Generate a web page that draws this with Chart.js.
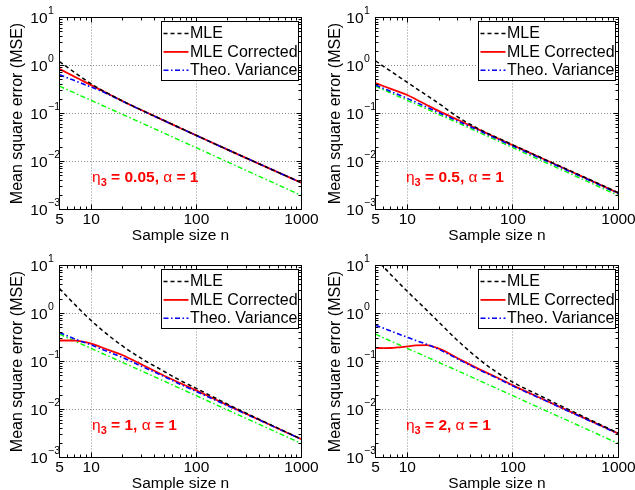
<!DOCTYPE html>
<html><head><meta charset="utf-8">
<script src="https://cdn.jsdelivr.net/npm/chart.js@4/dist/chart.umd.min.js"></script>
<style>
html,body{margin:0;padding:0;background:#fff;overflow:hidden;}
#wrap{position:relative;width:635px;height:490px;overflow:hidden;background:#fff;}
canvas{position:absolute;}
</style></head><body>
<div id="wrap">
<canvas id="c1"></canvas><canvas id="c2"></canvas><canvas id="c3"></canvas><canvas id="c4"></canvas>
</div>
<script>
// ---------- data ----------
const sampleSizes = [5, 6, 7, 8, 10, 12, 15, 20, 30, 50, 70, 100, 200, 500, 1000];
const xTickValues = [5, 10, 100, 1000];
const yTickValues = [0.001, 0.01, 0.1, 1, 10];
const seriesNames = ['MLE', 'MLE Corrected', 'Theo. Variance'];
const xAxisTitle = 'Sample size n';
const yAxisTitle = 'Mean square error (MSE)';
const etaValues = ['0.05', '0.5', '1', '2'];
const alphaValue = '1';

// green dash-dot reference curve (not in legend)
const greenRef = [0.37, 0.31, 0.266, 0.233, 0.188, 0.157, 0.126, 0.095, 0.064, 0.0385, 0.0276, 0.0194, 0.0097, 0.0039, 0.00195];

// panel 1: eta3 = 0.05
const mle1  = [1.21, 0.904, 0.71, 0.578, 0.416, 0.327, 0.25, 0.181, 0.118, 0.0705, 0.0502, 0.035, 0.0175, 0.0071, 0.0036];
const corr1 = [0.85, 0.69, 0.58, 0.5, 0.39, 0.318, 0.248, 0.18, 0.118, 0.07, 0.05, 0.035, 0.0175, 0.0071, 0.0036];
const theo1 = [0.64, 0.55, 0.48, 0.43, 0.355, 0.303, 0.243, 0.178, 0.117, 0.0697, 0.0498, 0.0349, 0.0175, 0.0071, 0.0036];
// panel 2: eta3 = 0.5
const mle2  = [1.25, 0.95, 0.76, 0.62, 0.445, 0.34, 0.245, 0.16, 0.085, 0.045, 0.0318, 0.0222, 0.0111, 0.0045, 0.00222];
const corr2 = [0.43, 0.37, 0.326, 0.292, 0.243, 0.198, 0.154, 0.112, 0.074, 0.044, 0.031, 0.0218, 0.011, 0.0044, 0.0022];
const theo2 = [0.39, 0.33, 0.287, 0.254, 0.207, 0.1725, 0.138, 0.1035, 0.0695, 0.042, 0.0299, 0.021, 0.0106, 0.0043, 0.00215];
// panel 3: eta3 = 1
const mle3  = [3.3, 2.17, 1.535, 1.143, 0.714, 0.501, 0.335, 0.208, 0.116, 0.0612, 0.0405, 0.0275, 0.0128, 0.0049, 0.0024];
const corr3 = [0.274, 0.274, 0.272, 0.263, 0.237, 0.205, 0.17, 0.135, 0.087, 0.05, 0.0356, 0.025, 0.0122, 0.0048, 0.0024];
const theo3 = [0.40, 0.34, 0.295, 0.264, 0.222, 0.188, 0.155, 0.12, 0.08, 0.048, 0.0337, 0.0237, 0.0119, 0.0048, 0.00238];
// panel 4: eta3 = 2
const mle4  = [14.0, 9.2, 6.44, 4.74, 2.9, 1.96, 1.22, 0.652, 0.273, 0.103, 0.06, 0.037, 0.0174, 0.0066, 0.0032];
const corr4 = [0.192, 0.19, 0.191, 0.196, 0.207, 0.216, 0.219, 0.185, 0.117, 0.066, 0.047, 0.0318, 0.0158, 0.0063, 0.00315];
const theo4 = [0.57, 0.49, 0.43, 0.385, 0.32, 0.275, 0.232, 0.178, 0.113, 0.064, 0.0455, 0.031, 0.0155, 0.0062, 0.0031];

// ---------- layout / style ----------
const FONT = "'Liberation Sans', Arial, Helvetica, sans-serif";
const H = 250;
const panels = [
  {id:'c1', left:0,   top:0,   w:318, L:59.5, R:301.5, T:17.5, B:209.5, xTitlePad:4.9, mle:mle1, corr:corr1, theo:theo1, eta:etaValues[0], anchor:[10.2, 0.00374]},
  {id:'c2', left:318, top:0,   w:317, L:57.5, R:300.5, T:17.5, B:209.5, xTitlePad:4.9, mle:mle2, corr:corr2, theo:theo2, eta:etaValues[1], anchor:[9.72, 0.00374]},
  {id:'c3', left:0,   top:245, w:318, L:59.5, R:301.5, T:20.5, B:212.5, xTitlePad:2.2, mle:mle3, corr:corr3, theo:theo3, eta:etaValues[2], anchor:[10.2, 0.00374]},
  {id:'c4', left:318, top:245, w:317, L:57.5, R:300.5, T:20.5, B:212.5, xTitlePad:2.2, mle:mle4, corr:corr4, theo:theo4, eta:etaValues[3], anchor:[9.72, 0.00374]}
];

const matlabAxes = {
  id: 'matlabAxes',
  afterDatasetsDraw(chart, args, opts) {
    const ctx = chart.ctx, a = chart.chartArea;
    const xs = chart.scales.x, ys = chart.scales.y;
    ctx.save();
    ctx.setLineDash([]);
    ctx.strokeStyle = '#000';
    ctx.lineWidth = 1;
    ctx.strokeRect(a.left, a.top, a.right - a.left, a.bottom - a.top);
    const majorX = xs.ticks.map(t => t.value);
    const majorY = ys.ticks.map(t => t.value);
    const minors = (min, max, majors) => {
      const out = [];
      for (let e = Math.floor(Math.log10(min)); e <= Math.ceil(Math.log10(max)); e++) {
        for (let m = 1; m < 10; m++) {
          const v = m * Math.pow(10, e);
          if (v >= min * 0.999 && v <= max * 1.001 && !majors.some(M => Math.abs(M - v) / v < 1e-6)) out.push(v);
        }
      }
      return out;
    };
    ctx.beginPath();
    const tickX = (v, len) => { const p = Math.round(xs.getPixelForValue(v) - 0.5) + 0.5; ctx.moveTo(p, a.bottom); ctx.lineTo(p, a.bottom - len); ctx.moveTo(p, a.top); ctx.lineTo(p, a.top + len); };
    const tickY = (v, len) => { const p = Math.round(ys.getPixelForValue(v) - 0.5) + 0.5; ctx.moveTo(a.left, p); ctx.lineTo(a.left + len, p); ctx.moveTo(a.right, p); ctx.lineTo(a.right - len, p); };
    majorX.forEach(v => tickX(v, 5));
    minors(xs.min, xs.max, majorX).forEach(v => tickX(v, 3));
    majorY.forEach(v => tickY(v, 5));
    minors(ys.min, ys.max, majorY).forEach(v => tickY(v, 3));
    ctx.stroke();

    // y tick labels with superscript exponent
    ctx.fillStyle = '#000';
    ctx.textBaseline = 'middle';
    majorY.forEach(v => {
      const p = ys.getPixelForValue(v);
      const e = Math.round(Math.log10(v));
      const right = a.left - 12;
      ctx.font = '15.5px ' + FONT; ctx.textAlign = 'right';
      ctx.fillText('10', right, p + 1);
      ctx.font = '10.5px ' + FONT; ctx.textAlign = 'left';
      ctx.fillText(e < 0 ? '\u2212' + (-e) : String(e), right + 0.5, p - 6.5);
    });

    // legend box
    const items = chart.data.datasets.filter(d => d.showInLegend);
    const bw = 137, bh = 59;
    const bx = Math.round(a.right - 4 - bw) + 0.5, by = Math.round(a.top + 3.5) + 0.5;
    ctx.fillStyle = '#fff'; ctx.fillRect(bx, by, bw, bh);
    ctx.strokeStyle = '#000'; ctx.lineWidth = 1; ctx.strokeRect(bx, by, bw, bh);
    items.forEach((d, i) => {
      const yy = by + 12 + i * 18.4;
      ctx.beginPath(); ctx.setLineDash(d.borderDash || []);
      ctx.strokeStyle = d.borderColor; ctx.lineWidth = d.borderWidth;
      ctx.moveTo(bx + 2, yy); ctx.lineTo(bx + 27, yy); ctx.stroke();
      ctx.setLineDash([]);
      ctx.fillStyle = '#000'; ctx.font = '16px ' + FONT; ctx.textAlign = 'left'; ctx.textBaseline = 'middle';
      ctx.fillText(d.label, bx + 28.5, yy + 0.5);
    });

    // annotation
    const an = opts.annotation;
    if (an) {
      let x0 = xs.getPixelForValue(an.n);
      const y0 = ys.getPixelForValue(an.v);
      ctx.fillStyle = '#ff0000'; ctx.textAlign = 'left'; ctx.textBaseline = 'alphabetic';
      const parts = [
        ['\u03B7', '15.5px ' + FONT, 0],
        ['3', 'bold 11px ' + FONT, 4],
        [' = ' + an.eta + ', ', 'bold 15.5px ' + FONT, 0],
        ['\u03B1', '15.5px ' + FONT, 0],
        [' = ' + an.alpha, 'bold 15.5px ' + FONT, 0]
      ];
      parts.forEach(([t, f, dy]) => { ctx.font = f; ctx.fillText(t, x0, y0 + dy); x0 += ctx.measureText(t).width; });
    }
    ctx.restore();
  }
};

function makeChart(p) {
  const cv = document.getElementById(p.id);
  cv.width = p.w; cv.height = H;
  cv.style.left = p.left + 'px'; cv.style.top = p.top + 'px';
  cv.style.width = p.w + 'px'; cv.style.height = H + 'px';
  const pts = arr => sampleSizes.map((n, i) => ({x: n, y: arr[i]}));
  const dashDot = [5, 2.5, 1.5, 2.5];
  const gridOpts = {color: '#8c8c8c', lineWidth: 1, drawTicks: false};
  new Chart(cv, {
    type: 'line',
    data: {datasets: [
      {label: seriesNames[0], data: pts(p.mle),  borderColor: '#000000', borderWidth: 1.5, borderDash: [4, 3], order: 0, showInLegend: true},
      {label: seriesNames[1], data: pts(p.corr), borderColor: '#ff0000', borderWidth: 1.8, order: 2, showInLegend: true},
      {label: seriesNames[2], data: pts(p.theo), borderColor: '#0000ff', borderWidth: 1.6, borderDash: dashDot, order: 1, showInLegend: true},
      {data: pts(greenRef), borderColor: '#00ff00', borderWidth: 1.4, borderDash: dashDot, order: 3, showInLegend: false}
    ]},
    options: {
      responsive: false, animation: false, devicePixelRatio: 1,
      layout: {padding: {left: 0, top: p.T, right: p.w - p.R, bottom: 0}},
      datasets: {line: {clip: 0, pointRadius: 0, cubicInterpolationMode: 'monotone', fill: false}},
      elements: {point: {radius: 0}},
      plugins: {
        legend: {display: false}, tooltip: {enabled: false}, title: {display: false},
        matlabAxes: {annotation: {n: p.anchor[0], v: p.anchor[1], eta: p.eta, alpha: alphaValue}}
      },
      scales: {
        x: {
          type: 'logarithmic', min: 5, max: 1000, position: 'bottom',
          afterBuildTicks: s => { s.ticks = xTickValues.map(v => ({value: v})); },
          afterFit: s => { s.height = H - p.B; s.paddingLeft = 0; s.paddingRight = 0; },
          ticks: {autoSkip: false, maxRotation: 0, minRotation: 0, padding: 1, font: {family: FONT, size: 15.5}, color: '#000', callback: v => String(v)},
          grid: gridOpts,
          border: {display: false, dash: [1, 2]},
          title: {display: true, text: xAxisTitle, font: {family: FONT, size: 15.5}, color: '#000', padding: {top: 0, bottom: p.xTitlePad}}
        },
        y: {
          type: 'logarithmic', min: 0.001, max: 10, position: 'left',
          afterBuildTicks: s => { s.ticks = yTickValues.map(v => ({value: v})); },
          afterFit: s => { s.width = p.L; s.paddingTop = 0; s.paddingBottom = 0; },
          ticks: {display: false},
          grid: gridOpts,
          border: {display: false, dash: [1, 2]},
          title: {display: true, text: yAxisTitle, font: {family: FONT, size: 16}, color: '#000', padding: {top: 8.4, bottom: 0}}
        }
      }
    },
    plugins: [matlabAxes]
  });
}
panels.forEach(makeChart);
</script>
</body></html>
